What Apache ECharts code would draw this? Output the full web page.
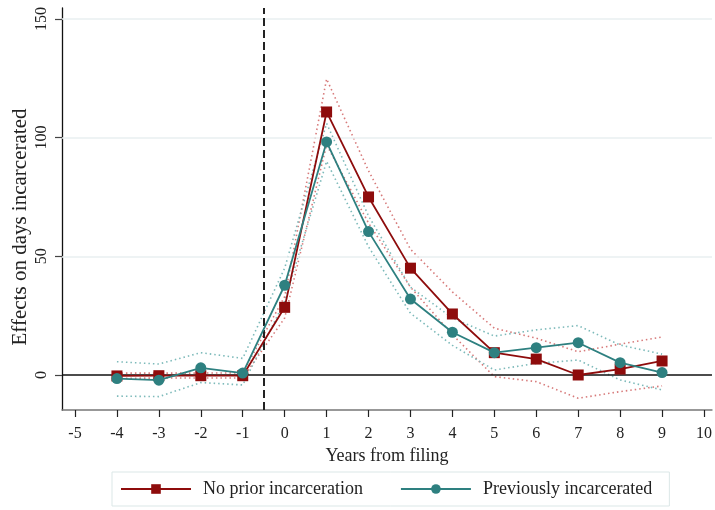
<!DOCTYPE html>
<html>
<head>
<meta charset="utf-8">
<script src="https://cdn.jsdelivr.net/npm/echarts@6/dist/echarts.min.js"></script>
<style>html,body{margin:0;padding:0;background:#fff}#c{width:715px;height:510px}</style>
</head>
<body>
<div id="c"></div>
<script>
var years = [-4, -3, -2, -1, 0, 1, 2, 3, 4, 5, 6, 7, 8, 9];
var noPrior = [-0.4, -0.3, -0.3, -0.3, 28.5, 110.8, 75, 45, 25.7, 9.4, 6.7, 0, 2.5, 5.9];
var noPriorHi = [0.8, 0.8, 0.8, 0.9, 33, 124.7, 86, 53, 35, 19.7, 15.5, 9.8, 13, 16];
var noPriorLo = [-1.4, -1.3, -1.3, -1.3, 24, 97, 64, 37, 17, -0.7, -2.8, -9.8, -7, -4.6];
var prev = [-1.5, -2.2, 3, 0.8, 37.8, 98.2, 60.4, 32, 18, 9.4, 11.5, 13.6, 5.2, 1];
var prevHi = [5.6, 4.6, 9.4, 7, 45, 106, 67, 37, 24, 16.4, 19, 20.8, 12.6, 8.8];
var prevLo = [-8.9, -9.1, -3.2, -4.2, 31, 90, 54, 26, 12.5, 2.1, 4.9, 6.3, -2.1, -6.3];
var xTicks = [-5, -4, -3, -2, -1, 0, 1, 2, 3, 4, 5, 6, 7, 8, 9, 10];
var yTicks = [0, 50, 100, 150];
var names = ['No prior incarceration', 'Previously incarcerated'];
var xTitle = 'Years from filing';
var yTitle = 'Effects on days incarcerated';

function pairs(v) { return years.map(function (x, i) { return [x, v[i]]; }); }

var FONT = '"Liberation Serif", "DejaVu Serif", serif';
var RED = '#8e0c0c', TEAL = '#2e8080';
var RED_CI = '#d77a7a', TEAL_CI = '#7dbaba';

function ciSeries(v, color) {
  return {
    type: 'line', data: pairs(v), symbol: 'none', silent: true,
    lineStyle: { color: color, width: 1.6, type: [1.5, 3] }, z: 2
  };
}

var chart = echarts.init(document.getElementById('c'), null, { renderer: 'canvas' });
chart.setOption({
  animation: false,
  backgroundColor: '#fff',
  textStyle: { fontFamily: FONT },
  grid: { left: 62, right: 0, top: 8, bottom: 100, containLabel: false },
  graphic: [{
    type: 'text', x: 20, y: 227, rotation: Math.PI / 2,
    style: { text: yTitle, fill: '#222', font: '21px "Liberation Serif", "DejaVu Serif", serif',
      textAlign: 'center', textVerticalAlign: 'middle' }
  }],
  legend: {
    data: names,
    left: 112, top: 472,
    padding: [8, 17, 8, 8],
    itemGap: 37,
    itemWidth: 70, itemHeight: 12,
    borderColor: '#dbe7e7', borderWidth: 1,
    backgroundColor: '#fff',
    textStyle: { fontFamily: FONT, fontSize: 18, color: '#222', padding: [0, 0, 0, 7] }
  },
  xAxis: {
    type: 'value', min: -5.31, max: 10.19,
    name: xTitle, nameLocation: 'middle', nameGap: 34,
    nameTextStyle: { fontFamily: FONT, fontSize: 18, color: '#222' },
    axisLine: { show: true, onZero: false, lineStyle: { color: '#777', width: 1.5 } },
    axisTick: { show: true, length: 7, customValues: xTicks, lineStyle: { color: '#222', width: 1.2 } },
    axisLabel: { customValues: xTicks, fontFamily: FONT, fontSize: 16, color: '#222', margin: 16 },
    splitLine: { show: false }
  },
  yAxis: {
    type: 'value', min: -14.75, max: 154.6,
    axisLine: { show: true, onZero: false, lineStyle: { color: '#111', width: 1.3 } },
    axisTick: { show: true, length: 7, customValues: yTicks, lineStyle: { color: '#444', width: 1.2 } },
    axisLabel: { customValues: yTicks, rotate: 90, fontFamily: FONT, fontSize: 16, color: '#222', margin: 12 },
    splitLine: { show: false }
  },
  series: [
    {
      type: 'line', data: [], silent: true,
      markLine: {
        silent: true, symbol: 'none', label: { show: false },
        data: [
          { yAxis: 50, lineStyle: { color: '#e8eff0', width: 1.5, type: 'solid' } },
          { yAxis: 100, lineStyle: { color: '#e8eff0', width: 1.5, type: 'solid' } },
          { yAxis: 150, lineStyle: { color: '#e8eff0', width: 1.5, type: 'solid' } },
          { yAxis: 0, lineStyle: { color: '#111', width: 1.5, type: 'solid' } },
          { xAxis: -0.5, lineStyle: { color: '#222', width: 2, type: [8, 4] } }
        ]
      },
      z: 1
    },
    ciSeries(noPriorHi, RED_CI),
    ciSeries(noPriorLo, RED_CI),
    ciSeries(prevHi, TEAL_CI),
    ciSeries(prevLo, TEAL_CI),
    {
      name: names[0], type: 'line', data: pairs(noPrior),
      symbol: 'rect', symbolSize: 11,
      itemStyle: { color: RED }, lineStyle: { color: RED, width: 1.8 }, z: 5
    },
    {
      name: names[1], type: 'line', data: pairs(prev),
      symbol: 'circle', symbolSize: 11,
      itemStyle: { color: TEAL }, lineStyle: { color: TEAL, width: 1.8 }, z: 6
    }
  ]
});
</script>
</body>
</html>
